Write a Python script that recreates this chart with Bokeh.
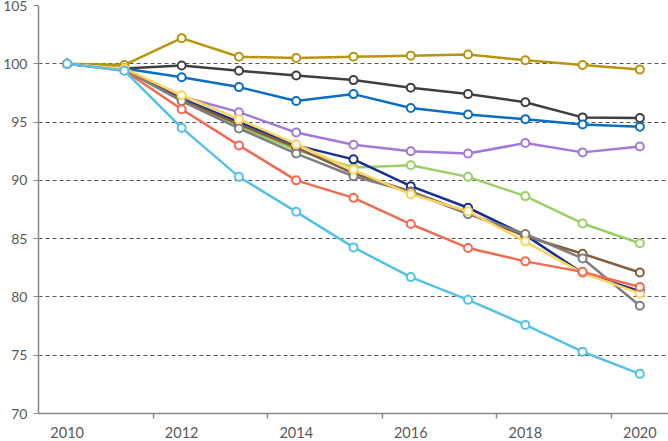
from bokeh.plotting import figure
from bokeh.models import FixedTicker, Range1d
from bokeh.embed import file_html
from bokeh.resources import INLINE

years = [2010, 2011, 2012, 2013, 2014, 2015, 2016, 2017, 2018, 2019, 2020]
tick_labels = ["2010", "2012", "2014", "2016", "2018", "2020"]

gold = [100, 99.9, 102.2, 100.6, 100.5, 100.6, 100.7, 100.8, 100.3, 99.9, 99.5]
darkgray = [100, 99.6, 99.85, 99.4, 99.0, 98.6, 97.95, 97.4, 96.7, 95.4, 95.35]
blue = [100, 99.6, 98.85, 98.0, 96.8, 97.4, 96.2, 95.65, 95.25, 94.8, 94.6]
purple = [100, 99.5, 97.2, 95.85, 94.1, 93.05, 92.5, 92.3, 93.2, 92.4, 92.9]
green = [100, 99.5, 97.0, 94.6, 92.6, 91.1, 91.3, 90.3, 88.65, 86.3, 84.6]
navy = [100, 99.5, 97.0, 95.0, 93.0, 91.8, 89.5, 87.65, 85.3, 82.05, 80.5]
brown = [100, 99.5, 96.9, 94.8, 92.8, 90.6, 89.05, 87.2, 85.2, 83.7, 82.1]
gray = [100, 99.5, 96.8, 94.45, 92.3, 90.35, 89.0, 87.1, 85.4, 83.3, 79.25]
yellow = [100, 99.6, 97.3, 95.25, 93.1, 90.9, 88.8, 87.35, 84.75, 82.05, 80.3]
red = [100, 99.4, 96.1, 93.0, 90.0, 88.5, 86.25, 84.2, 83.05, 82.15, 80.85]
cyan = [100, 99.4, 94.5, 90.3, 87.3, 84.25, 81.7, 79.75, 77.6, 75.3, 73.4]

series = [
    (gold, "#B8950E"),
    (darkgray, "#3F3F3F"),
    (blue, "#0A6FC2"),
    (purple, "#A179D9"),
    (green, "#9BCF69"),
    (navy, "#15318F"),
    (brown, "#855D3A"),
    (gray, "#7F7F7F"),
    (yellow, "#FFD45E"),
    (red, "#F26A50"),
    (cyan, "#55C1E6"),
]

idx = list(range(len(years)))

p = figure(width=668, height=441, output_backend="svg", toolbar_location=None,
           x_range=Range1d(-0.5, len(years) - 0.5), y_range=Range1d(70, 105),
           min_border_left=38, min_border_right=0, min_border_top=5, min_border_bottom=28)
p.outline_line_color = None
p.background_fill_color = "white"
p.border_fill_color = "white"

for vals, col in series:
    p.line(idx, vals, line_color=col, line_width=2.5)
    p.scatter(idx, vals, size=8, marker="circle", line_color=col, line_width=2, fill_color="white")

# x axis
label_pos = [years.index(int(t)) for t in tick_labels]
p.xaxis.ticker = FixedTicker(ticks=label_pos,
                             minor_ticks=[i + 1.5 for i in label_pos[:-1]])
p.xaxis.major_label_overrides = {pos: lab for pos, lab in zip(label_pos, tick_labels)}
p.xaxis.major_tick_out = 0
p.xaxis.major_tick_in = 0
p.xaxis.minor_tick_out = 5
p.xaxis.minor_tick_in = 0
p.xaxis.minor_tick_line_color = "#898989"
p.xaxis.minor_tick_line_width = 1.5
p.xaxis.axis_line_color = "#898989"
p.xaxis.axis_line_width = 1.5
p.xaxis.major_label_standoff = 8
p.xaxis.major_label_text_font = "Lato"
p.xaxis.major_label_text_font_size = "14.5px"
p.xaxis.major_label_text_color = "#595959"

# y axis
p.yaxis.ticker = FixedTicker(ticks=[70, 75, 80, 85, 90, 95, 100, 105])
p.yaxis.major_tick_out = 5
p.yaxis.major_tick_in = 0
p.yaxis.major_tick_line_color = "#898989"
p.yaxis.minor_tick_out = 0
p.yaxis.minor_tick_in = 0
p.yaxis.axis_line_color = "#898989"
p.yaxis.axis_line_width = 1.5
p.yaxis.major_label_standoff = 6
p.yaxis.major_label_text_font = "Lato"
p.yaxis.major_label_text_font_size = "14px"
p.yaxis.major_label_text_color = "#595959"

p.xgrid.grid_line_color = None
p.ygrid.ticker = FixedTicker(ticks=[75, 80, 85, 90, 95, 100, 105])
p.ygrid.grid_line_color = "#555555"
p.ygrid.grid_line_dash = "4 3"
p.ygrid.grid_line_width = 1

open("out.html", "w").write(file_html(p, INLINE))
